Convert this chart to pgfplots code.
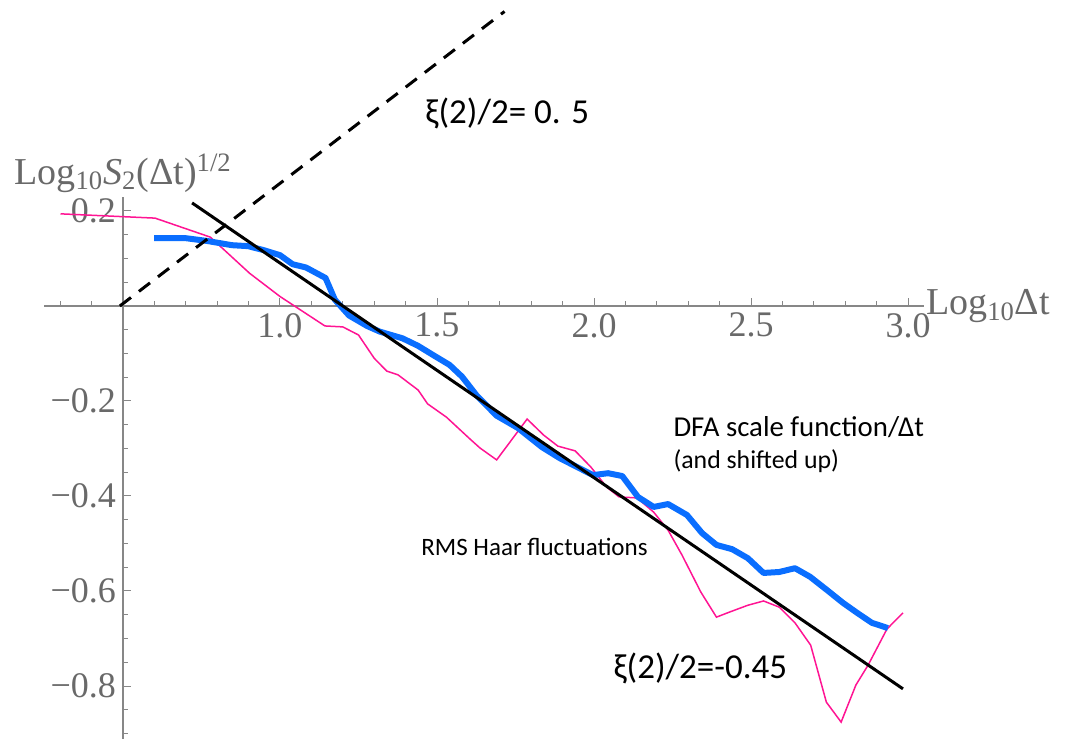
\documentclass[border=0pt]{standalone}
\usepackage{pgfplots}
\pgfplotsset{compat=1.18}
\usepackage{fontspec}
\setmainfont{Liberation Serif}
\newfontfamily\calib{Carlito}
\definecolor{axgray}{RGB}{135,135,135}
\definecolor{lblgray}{RGB}{105,105,105}
\definecolor{dfablue}{RGB}{10,110,255}
\definecolor{haarpink}{RGB}{255,20,147}

\begin{document}
\begin{tikzpicture}
\begin{axis}[
  x=157pt, y=237.5pt,
  axis lines=middle,
  axis line style={axgray, line width=0.6pt, -},
  xmin=-0.25, xmax=2.55, ymin=-0.92, ymax=0.23,
  xtick={0.5,1,1.5,2,2.5},
  xticklabels={1.0,1.5,2.0,2.5,3.0},
  minor xtick={-0.2,-0.1,0.1,0.2,0.3,0.4,0.6,0.7,0.8,0.9,1.1,1.2,1.3,1.4,1.6,1.7,1.8,1.9,2.1,2.2,2.3,2.4},
  ytick={-0.8,-0.6,-0.4,-0.2,0.2},
  yticklabels={−0.8,−0.6,−0.4,−0.2,0.2},
  minor ytick={-0.9,-0.85,-0.75,-0.7,-0.65,-0.55,-0.5,-0.45,-0.35,-0.3,-0.25,-0.15,-0.1,-0.05,0.05,0.1,0.15},
  tick align=inside,
  major tick length=4pt, minor tick length=2.5pt,
  tick style={axgray, line width=0.5pt},
  ticklabel style={font=\fontsize{18}{18}\selectfont, text=lblgray},
  xlabel={Log\textsubscript{10}Δt},
  ylabel={Log\textsubscript{10}\textit{S}\textsubscript{2}(Δt)\textsuperscript{1/2}},
  label style={font=\fontsize{19}{19}\selectfont, text=lblgray},
  xlabel style={anchor=west, inner sep=1pt},
  ylabel style={anchor=south, inner sep=2pt},
  clip=false,
]
% RMS Haar fluctuations (thin magenta)
\addplot[haarpink, line width=0.75pt] table[x expr=\thisrowno{0}-0.5, y index=1] {
x y
0.301 0.194
0.602 0.185
0.778 0.145
0.903 0.069
1.000 0.020
1.143 -0.042
1.200 -0.044
1.250 -0.061
1.300 -0.110
1.340 -0.137
1.376 -0.145
1.440 -0.177
1.470 -0.206
1.530 -0.234
1.605 -0.280
1.637 -0.299
1.690 -0.324
1.787 -0.238
1.840 -0.272
1.885 -0.295
1.940 -0.305
1.990 -0.339
2.040 -0.381
2.080 -0.402
2.137 -0.404
2.190 -0.434
2.236 -0.472
2.280 -0.524
2.340 -0.602
2.390 -0.655
2.433 -0.644
2.490 -0.630
2.540 -0.621
2.590 -0.634
2.640 -0.667
2.690 -0.714
2.740 -0.834
2.787 -0.876
2.834 -0.798
2.873 -0.756
2.933 -0.680
2.984 -0.646
};
% DFA scale function (thick blue)
\addplot[dfablue, line width=3pt, line join=round] table[x expr=\thisrowno{0}-0.5, y index=1] {
x y
0.599 0.143
0.697 0.143
0.767 0.137
0.847 0.128
0.898 0.126
0.946 0.118
1.000 0.107
1.040 0.088
1.083 0.081
1.145 0.059
1.175 0.013
1.220 -0.020
1.277 -0.042
1.318 -0.054
1.390 -0.068
1.440 -0.084
1.487 -0.103
1.540 -0.124
1.580 -0.149
1.627 -0.189
1.690 -0.231
1.758 -0.257
1.834 -0.297
1.890 -0.320
1.946 -0.339
1.997 -0.356
2.045 -0.352
2.090 -0.358
2.140 -0.402
2.190 -0.423
2.236 -0.417
2.296 -0.440
2.344 -0.478
2.390 -0.503
2.440 -0.512
2.490 -0.531
2.540 -0.562
2.590 -0.560
2.640 -0.552
2.688 -0.570
2.742 -0.598
2.793 -0.625
2.838 -0.646
2.885 -0.667
2.936 -0.678
};
% fitted slope -0.45
\addplot[black, line width=1.5pt] table[x expr=\thisrowno{0}-0.5, y index=1] {
x y
0.720 0.217
2.984 -0.806
};
% reference slope 0.5 (dashed)
\addplot[black, line width=1.5pt, dash pattern=on 7pt off 5pt] table[x expr=\thisrowno{0}-0.5, y index=1] {
x y
0.490 0.000
1.715 0.620
};
\node[anchor=west, inner sep=0pt, font=\calib\fontsize{17.5}{17.5}\selectfont] at (axis cs:0.962,0.406) {ξ(2)/2= 0. 5};
\node[anchor=west, inner sep=0pt, font=\calib\fontsize{17.5}{17.5}\selectfont] at (axis cs:1.561,-0.764) {ξ(2)/2=-0.45};
\node[anchor=west, inner sep=0pt, font=\calib\fontsize{14.4}{14.4}\selectfont] at (axis cs:1.752,-0.255) {DFA scale function/Δt};
\node[anchor=west, inner sep=0pt, font=\calib\fontsize{12.9}{12.9}\selectfont] at (axis cs:1.752,-0.326) {(and shifted up)};
\node[anchor=east, inner sep=0pt, font=\calib\fontsize{12.5}{12.5}\selectfont] at (axis cs:1.672,-0.507) {RMS Haar fluctuations};
\coordinate (BL) at (axis cs:-0.3917,-0.9095);
\coordinate (TR) at (axis cs:3.0032,0.6442);
\end{axis}
\pgfresetboundingbox
\path[use as bounding box] (BL) rectangle (TR);
\end{tikzpicture}
\end{document}
